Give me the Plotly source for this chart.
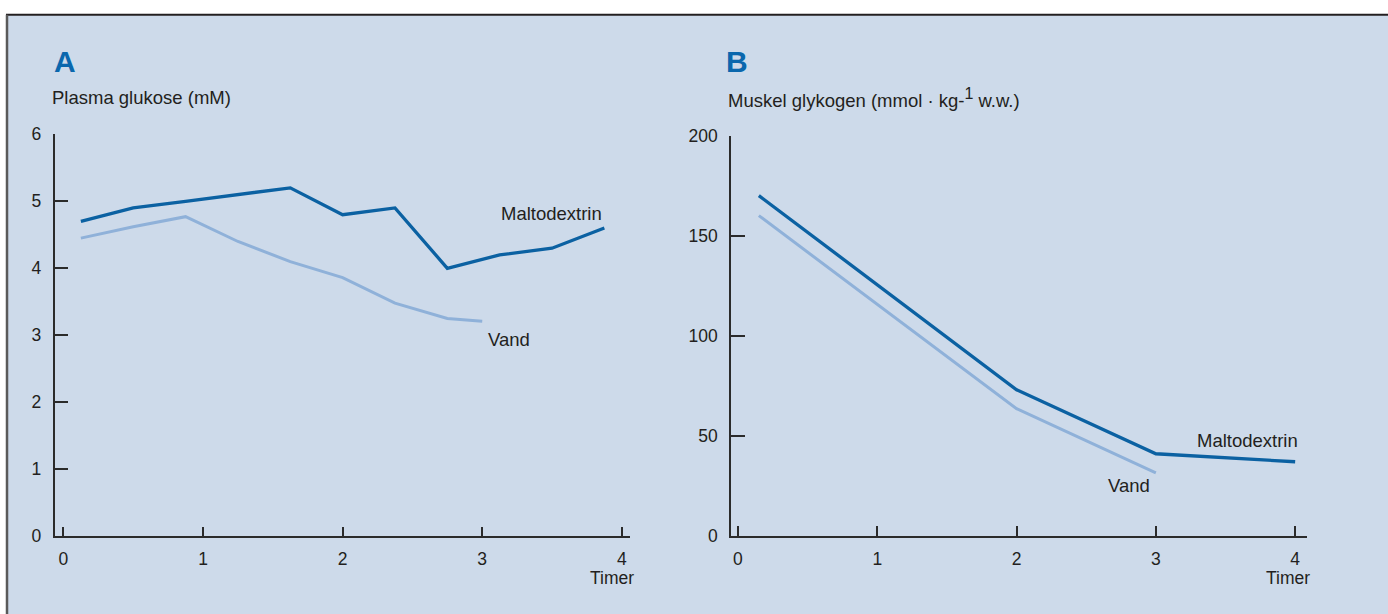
import plotly.graph_objects as go

W, H = 1388, 614

# ---- data ----
timer_a_malto = [0.125, 0.5, 0.875, 1.25, 1.625, 2.0, 2.375, 2.75, 3.125, 3.5, 3.875]
glukose_malto = [4.7, 4.9, 5.0, 5.1, 5.2, 4.8, 4.9, 4.0, 4.2, 4.3, 4.6]
timer_a_vand = [0.125, 0.5, 0.875, 1.25, 1.625, 2.0, 2.375, 2.75, 3.0]
glukose_vand = [4.45, 4.62, 4.77, 4.4, 4.1, 3.86, 3.48, 3.25, 3.21]

timer_b_malto = [0.15, 2.0, 3.0, 4.0]
glykogen_malto = [170, 73, 41, 37]
timer_b_vand = [0.15, 2.0, 3.0]
glykogen_vand = [160, 63.5, 31.5]

x_ticks = [0, 1, 2, 3, 4]
a_y_ticks = [0, 1, 2, 3, 4, 5, 6]
b_y_ticks = [0, 50, 100, 150, 200]

DARK = "#0b61a2"
LIGHT = "#8fb1d9"
BG = "#cddaea"
TXT = "#231f20"
AXC = "#2b2b2b"
FONT = "Liberation Sans, Arial, sans-serif"

# vertical compensation for the capture (observed offset/scale)
Y_OFF, Y_SC = 7.8, 0.9746


def px(x):
    return x / W


def py(y):
    return 1 - ((y - Y_OFF) / Y_SC) / H


fig = go.Figure()
fig.add_trace(go.Scatter(x=timer_a_malto, y=glukose_malto, mode="lines",
                         line=dict(color=DARK, width=3.3), xaxis="x", yaxis="y",
                         hoverinfo="skip", showlegend=False))
fig.add_trace(go.Scatter(x=timer_a_vand, y=glukose_vand, mode="lines",
                         line=dict(color=LIGHT, width=3), xaxis="x", yaxis="y",
                         hoverinfo="skip", showlegend=False))
fig.add_trace(go.Scatter(x=timer_b_malto, y=glykogen_malto, mode="lines",
                         line=dict(color=DARK, width=3.3), xaxis="x2", yaxis="y2",
                         hoverinfo="skip", showlegend=False))
fig.add_trace(go.Scatter(x=timer_b_vand, y=glykogen_vand, mode="lines",
                         line=dict(color=LIGHT, width=3), xaxis="x2", yaxis="y2",
                         hoverinfo="skip", showlegend=False))

common = dict(showgrid=False, zeroline=False, showline=True, linecolor=AXC,
              linewidth=1.5, ticks="inside", tickcolor=AXC, tickwidth=1.5,
              tickfont=dict(family=FONT, size=17.5, color=TXT), fixedrange=True)

fig.update_layout(
    width=W, height=H,
    margin=dict(l=0, r=0, t=0, b=0),
    paper_bgcolor="white",
    plot_bgcolor="rgba(0,0,0,0)",
    font=dict(family=FONT, color=TXT, size=17),
    xaxis=dict(domain=[px(54.5), px(629.5)], range=[-0.064, 4.055],
               tickvals=x_ticks, ticklen=10, anchor="y",
               ticklabelstandoff=6, **common),
    yaxis=dict(domain=[py(538), py(133)], range=[0, 6],
               tickvals=a_y_ticks, ticklen=14, anchor="x",
               ticklabelstandoff=8, **common),
    xaxis2=dict(domain=[px(731), px(1307)], range=[-0.05, 4.085],
                tickvals=x_ticks, ticklen=10, anchor="y2",
                ticklabelstandoff=6, **common),
    yaxis2=dict(domain=[py(537.5), py(134.3)], range=[0, 200],
                tickvals=b_y_ticks, ticklen=14, anchor="x2",
                ticklabelstandoff=8, **common),
)

shapes = [
    dict(type="rect", xref="paper", yref="paper", x0=px(7), x1=1.01, y0=-0.05,
         y1=py(12.5), fillcolor=BG, line=dict(width=0), layer="below"),
    dict(type="line", xref="paper", yref="paper", x0=px(6), x1=1.01,
         y0=py(12.5), y1=py(12.5), line=dict(color="#231f20", width=2)),
    dict(type="line", xref="paper", yref="paper", x0=px(7), x1=px(7),
         y0=py(12.5), y1=-0.05, line=dict(color="#5a5a5a", width=2.5)),
]
fig.update_layout(shapes=shapes)

LBL = 18.5
ann = []
# panel letters
ann.append(dict(text="<b>A</b>", x=px(52), y=py(60), xref="paper", yref="paper",
                xanchor="left", yanchor="middle", showarrow=False,
                font=dict(family=FONT, size=30, color="#0a67ad")))
ann.append(dict(text="<b>B</b>", x=px(724), y=py(60), xref="paper", yref="paper",
                xanchor="left", yanchor="middle", showarrow=False,
                font=dict(family=FONT, size=30, color="#0a67ad")))
# axis titles
ann.append(dict(text="Plasma glukose (mM)", x=px(50), y=py(96), xref="paper",
                yref="paper", xanchor="left", yanchor="middle", showarrow=False,
                font=dict(family=FONT, size=LBL, color=TXT)))
ann.append(dict(text="Muskel glykogen (mmol · kg-<sup><span style=\"font-size:16px\">1</span></sup> w.w.)",
                x=px(726), y=py(96), xref="paper", yref="paper", xanchor="left",
                yanchor="middle", showarrow=False,
                font=dict(family=FONT, size=LBL, color=TXT)))
ann.append(dict(text="Timer", x=px(636), y=py(580), xref="paper", yref="paper",
                xanchor="right", yanchor="middle", showarrow=False,
                font=dict(family=FONT, size=17.5, color=TXT)))
ann.append(dict(text="Timer", x=px(1312), y=py(580), xref="paper", yref="paper",
                xanchor="right", yanchor="middle", showarrow=False,
                font=dict(family=FONT, size=17.5, color=TXT)))
# series labels
ann.append(dict(text="Maltodextrin", x=3.12, y=4.82, xref="x", yref="y",
                xanchor="left", yanchor="middle", showarrow=False,
                font=dict(family=FONT, size=LBL, color=TXT)))
ann.append(dict(text="Vand", x=3.03, y=2.94, xref="x", yref="y",
                xanchor="left", yanchor="middle", showarrow=False,
                font=dict(family=FONT, size=LBL, color=TXT)))
ann.append(dict(text="Maltodextrin", x=3.28, y=47.5, xref="x2", yref="y2",
                xanchor="left", yanchor="middle", showarrow=False,
                font=dict(family=FONT, size=LBL, color=TXT)))
ann.append(dict(text="Vand", x=2.64, y=25, xref="x2", yref="y2",
                xanchor="left", yanchor="middle", showarrow=False,
                font=dict(family=FONT, size=LBL, color=TXT)))
fig.update_layout(annotations=ann)

fig.write_html(
    "out.html",
    config=dict(displayModeBar=False),
    post_script="document.body.style.margin='0';document.body.style.overflow='hidden';",
)
